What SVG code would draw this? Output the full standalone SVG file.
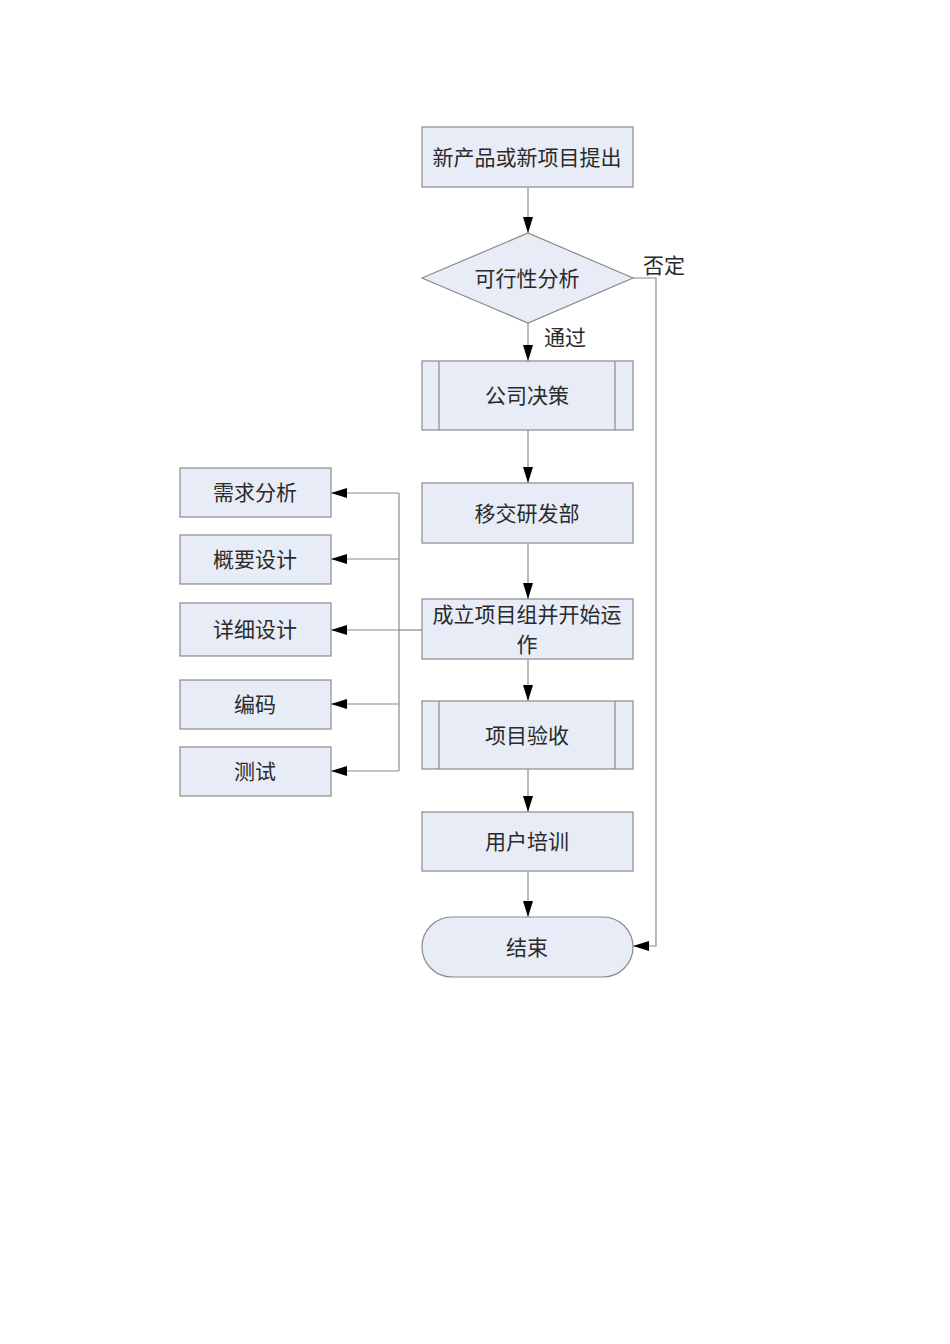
<svg xmlns="http://www.w3.org/2000/svg" width="950" height="1344" viewBox="0 0 950 1344">
<style>
.box{fill:#e8ecf7;stroke:#8a8a8a;stroke-width:1.2}
.ln{fill:none;stroke:#8a8a8a;stroke-width:1.2}
.in{fill:none;stroke:#8a8a8a;stroke-width:1.2}
text{font-family:"Noto Sans CJK SC","Liberation Serif",serif;font-size:21px;fill:#2a2a2a;text-anchor:middle;dominant-baseline:central}
</style>
<defs>
<marker id="ah" viewBox="0 0 16 10" refX="16" refY="5" markerWidth="16" markerHeight="10" markerUnits="userSpaceOnUse" orient="auto">
<path d="M0,0 L16,5 L0,10 Z" fill="#000"/>
</marker>
</defs>
<rect width="950" height="1344" fill="#fff"/>
<g id="connectors">
<line class="ln" x1="528" y1="188" x2="528" y2="233" marker-end="url(#ah)"/>
<line class="ln" x1="528" y1="323" x2="528" y2="361" marker-end="url(#ah)"/>
<line class="ln" x1="528" y1="430" x2="528" y2="483" marker-end="url(#ah)"/>
<line class="ln" x1="528" y1="543" x2="528" y2="599" marker-end="url(#ah)"/>
<line class="ln" x1="528" y1="659" x2="528" y2="701" marker-end="url(#ah)"/>
<line class="ln" x1="528" y1="769" x2="528" y2="812" marker-end="url(#ah)"/>
<line class="ln" x1="528" y1="871" x2="528" y2="917" marker-end="url(#ah)"/>
<polyline class="ln" points="633,278 656,278 656,946 633,946" marker-end="url(#ah)"/>
<line class="ln" x1="422" y1="630" x2="399" y2="630"/>
<line class="ln" x1="399" y1="493" x2="399" y2="771"/>
<line class="ln" x1="399" y1="493" x2="331" y2="493" marker-end="url(#ah)"/>
<line class="ln" x1="399" y1="559" x2="331" y2="559" marker-end="url(#ah)"/>
<line class="ln" x1="399" y1="630" x2="331" y2="630" marker-end="url(#ah)"/>
<line class="ln" x1="399" y1="704" x2="331" y2="704" marker-end="url(#ah)"/>
<line class="ln" x1="399" y1="771" x2="331" y2="771" marker-end="url(#ah)"/>
<text x="664" y="264">否定</text>
<text x="565" y="336">通过</text>
</g>
<g id="n1"><rect class="box" x="422" y="127" width="211" height="60"/><text x="527" y="156">新产品或新项目提出</text></g>
<g id="n2"><polygon class="box" points="422,278 528,233 633,278 528,323"/><text x="527" y="277">可行性分析</text></g>
<g id="n3"><rect class="box" x="422" y="361" width="211" height="69"/><line class="in" x1="439" y1="361" x2="439" y2="430"/><line class="in" x1="615" y1="361" x2="615" y2="430"/><text x="527" y="394">公司决策</text></g>
<g id="n4"><rect class="box" x="422" y="483" width="211" height="60"/><text x="527" y="512">移交研发部</text></g>
<g id="n5"><rect class="box" x="422" y="599" width="211" height="60"/><text x="527" y="613">成立项目组并开始运</text><text x="527" y="643">作</text></g>
<g id="n6"><rect class="box" x="422" y="701" width="211" height="68"/><line class="in" x1="439" y1="701" x2="439" y2="769"/><line class="in" x1="615" y1="701" x2="615" y2="769"/><text x="527" y="734">项目验收</text></g>
<g id="n7"><rect class="box" x="422" y="812" width="211" height="59"/><text x="527" y="840">用户培训</text></g>
<g id="n8"><rect class="box" x="422" y="917" width="211" height="60" rx="30" ry="30"/><text x="527" y="946">结束</text></g>
<g id="s1"><rect class="box" x="180" y="468" width="151" height="49"/><text x="255" y="491">需求分析</text></g>
<g id="s2"><rect class="box" x="180" y="535" width="151" height="49"/><text x="255" y="558">概要设计</text></g>
<g id="s3"><rect class="box" x="180" y="603" width="151" height="53"/><text x="255" y="628">详细设计</text></g>
<g id="s4"><rect class="box" x="180" y="680" width="151" height="49"/><text x="255" y="703">编码</text></g>
<g id="s5"><rect class="box" x="180" y="747" width="151" height="49"/><text x="255" y="770">测试</text></g>
</svg>
